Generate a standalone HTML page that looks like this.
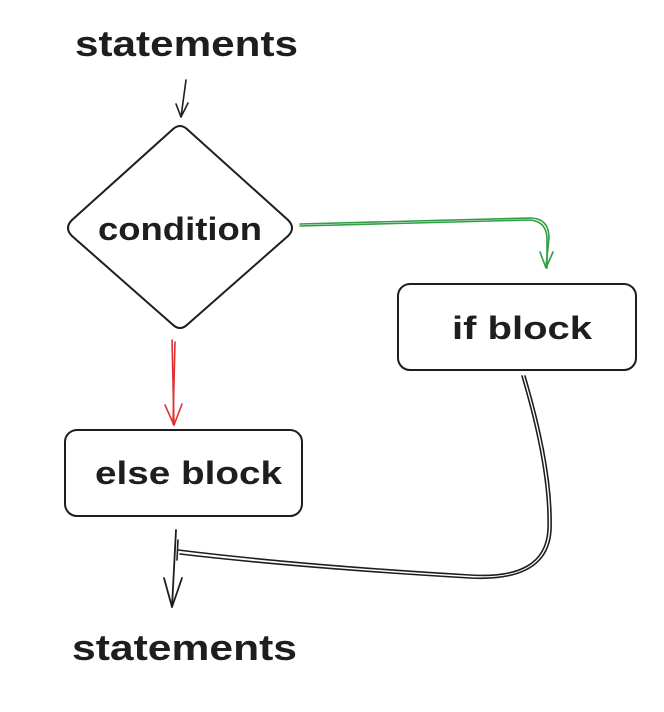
<!DOCTYPE html>
<html><head><meta charset="utf-8"><style>
html,body{margin:0;padding:0;background:#fff;width:664px;height:712px;overflow:hidden}
svg{display:block}
text{font-family:"Liberation Sans",sans-serif;font-weight:bold;fill:#1e1e1e}
</style></head><body>
<svg width="664" height="712" viewBox="0 0 664 712">
<g fill="none" stroke-linecap="round" stroke-linejoin="round">
  <!-- top arrow -->
  <g stroke="#1e1e1e" stroke-width="1.6">
    <path d="M186 80 L181 117"/><path d="M176 104 L181 117 L188 103"/>
  </g>
  <!-- diamond -->
  <path stroke="#1e1e1e" stroke-width="2"
    d="M172 130 Q180 122 188 130 L288 220 Q296 228 288 236 L188 324 Q180 332 172 324 L72 236 Q64 228 72 220 Z"/>
  <!-- green arrow -->
  <g stroke="#2f9e44" stroke-width="1.6">
    <path d="M300 226 L528 220 Q546 220 547 238 L547 268"/>
    <path d="M300 224 L530 218 Q549 218 549 238 L546 266"/>
    <path d="M540 252 L546 268 L553 252"/>
  </g>
  <!-- if block -->
  <rect x="398" y="284" width="238" height="86" rx="12" stroke="#1e1e1e" stroke-width="2"/>
  <!-- red arrow -->
  <g stroke="#e03131" stroke-width="1.6">
    <path d="M172 340 L174 425"/><path d="M175 342 L173 424"/>
    <path d="M165 405 L174 425 L182 404"/>
  </g>
  <!-- else block -->
  <rect x="65" y="430" width="237" height="86" rx="12" stroke="#1e1e1e" stroke-width="2"/>
  <!-- bottom arrow -->
  <g stroke="#1e1e1e" stroke-width="1.8">
    <path d="M176 530 L172 607"/><path d="M164 578 L172 607 L182 578"/>
  </g>
  <!-- if block return curve -->
  <g stroke="#1e1e1e" stroke-width="1.6">
    <path d="M522 376 Q550 470 548 530 Q545 580 470 575 Q300 565 178 550"/>
    <path d="M525 376 Q553 470 551 530 Q548 582 470 578 Q300 568 180 554"/>
    <path d="M178 540 L177 560"/>
  </g>
</g>
<text x="75" y="56" font-size="36" textLength="223" lengthAdjust="spacingAndGlyphs">statements</text>
<text x="98" y="240" font-size="32" textLength="164" lengthAdjust="spacingAndGlyphs">condition</text>
<text x="452" y="339" font-size="32" textLength="140" lengthAdjust="spacingAndGlyphs">if block</text>
<text x="95" y="484" font-size="32" textLength="187" lengthAdjust="spacingAndGlyphs">else block</text>
<text x="72" y="660" font-size="36" textLength="225" lengthAdjust="spacingAndGlyphs">statements</text>
</svg>
</body></html>
